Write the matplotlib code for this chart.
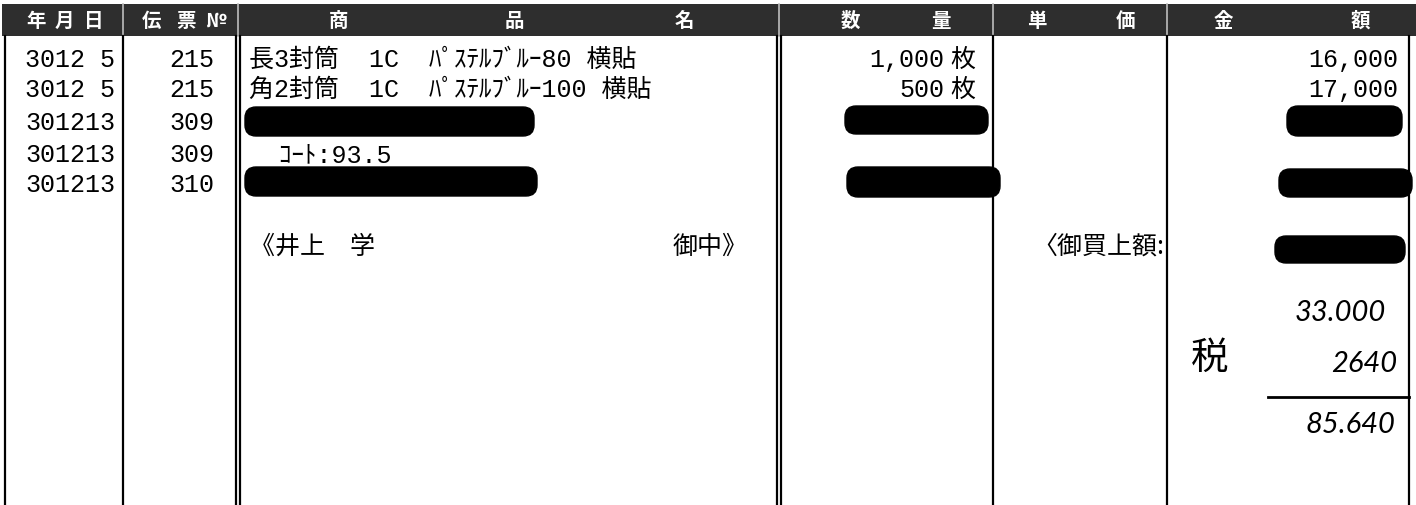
import matplotlib
matplotlib.use("Agg")
import matplotlib.pyplot as plt
from matplotlib.patches import Rectangle, FancyBboxPatch

# ---------------- data ----------------
header_labels = ["年", "月", "日", "伝", "票", "№", "商", "品", "名", "数", "量", "単", "価", "金", "額"]
dates = ["3012 5", "3012 5", "301213", "301213", "301213"]
slip_nos = ["215", "215", "309", "309", "310"]
products = ["長3封筒  1C  ﾊﾟｽﾃﾙﾌﾞﾙｰ80 横貼", "角2封筒  1C  ﾊﾟｽﾃﾙﾌﾞﾙｰ100 横貼", "", "  ｺｰﾄ:93.5", ""]
quantities = ["1,000", "500", "", "", ""]
qty_units = ["枚", "枚", "", "", ""]
amounts = ["16,000", "17,000", "", "", ""]
redacted_product = [False, False, True, False, True]
redacted_qty = [False, False, True, False, True]
redacted_amount = [False, False, True, False, True]
customer_left = "《井上　学"
customer_right = "御中》"
total_label = "〈御買上額:"
handwritten_values = ["33.000", "2640", "85.640"]
tax_label = "税"

# ---------------- layout ----------------
W, H = 1416, 506
fig = plt.figure(figsize=(W / 100, H / 100), dpi=100)
ax = fig.add_axes([0, 0, 1, 1])
ax.set_xlim(0, W)
ax.set_ylim(H, 0)
ax.axis("off")

CJK = ["Noto Sans CJK JP", "DejaVu Sans"]
MONO = ["Liberation Mono", "Noto Sans CJK JP", "DejaVu Sans"]
FS = 18

# header band
ax.add_patch(Rectangle((2, 5), W - 2, 32, facecolor="#2e2e2e", edgecolor="none", zorder=1))
header_x = [36, 64, 94, 152, 186, 216, 339, 514, 684, 850, 941, 1037, 1126, 1223, 1360]
for lbl, x in zip(header_labels, header_x):
    ax.text(x, 21, lbl, color="white", fontsize=14, fontweight="bold",
            family=CJK, ha="center", va="center", zorder=3)

# header separators (light)
for x in [123, 238, 779, 993, 1167]:
    ax.plot([x, x], [5, 37], color="#bdbdbd", lw=1.2, zorder=2)

# vertical rules
vlines = [5, 123, 236, 240, 777, 781, 993, 1167, 1409]
for x in vlines:
    ax.plot([x, x], [37, 506], color="black", lw=1.6, zorder=2)

# rows
baselines = [67, 97, 130, 162, 192]
for i, yb in enumerate(baselines):
    ax.text(25, yb, dates[i], fontsize=FS, family=MONO, ha="left", va="baseline")
    ax.text(214, yb, slip_nos[i], fontsize=FS, family=MONO, ha="right", va="baseline")
    if products[i]:
        ax.text(249, yb, products[i], fontsize=FS, family=MONO, ha="left", va="baseline")
    if quantities[i]:
        ax.text(944, yb, quantities[i], fontsize=FS, family=MONO, ha="right", va="baseline")
        ax.text(950, yb, qty_units[i], fontsize=FS, family=CJK, ha="left", va="baseline")
    if amounts[i]:
        ax.text(1398, yb, amounts[i], fontsize=FS, family=MONO, ha="right", va="baseline")

def blob(x0, y0, x1, y1):
    ax.add_patch(FancyBboxPatch((x0, y0), x1 - x0, y1 - y0,
                                boxstyle="round,pad=0,rounding_size=11",
                                facecolor="black", edgecolor="black", lw=1, zorder=4))

prod_boxes = {2: (245, 108, 534, 137), 4: (245, 168, 537, 197)}
qty_boxes = {2: (845, 107, 988, 135), 4: (847, 168, 1000, 198)}
amt_boxes = {2: (1287, 107, 1402, 137), 4: (1279, 170, 1412, 198)}
for i in range(len(dates)):
    if redacted_product[i]:
        blob(*prod_boxes[i])
    if redacted_qty[i]:
        blob(*qty_boxes[i])
    if redacted_amount[i]:
        blob(*amt_boxes[i])

# customer line
ax.text(250, 247, customer_left, fontsize=FS, family=CJK, ha="left", va="center")
ax.text(748, 247, customer_right, fontsize=FS, family=CJK, ha="right", va="center")
ax.text(1164, 247, total_label, fontsize=FS, family=CJK, ha="right", va="center")
blob(1275, 237, 1405, 264)

# handwritten totals
hw_pos = [(1386, 313), (1397, 364), (1395, 425)]
for v, (x, y) in zip(handwritten_values, hw_pos):
    ax.text(x, y, v, fontsize=21, family=["Lato", "DejaVu Sans"], fontstyle="italic",
            fontweight="normal", color="black", ha="right", va="center")
ax.text(1210, 358, tax_label, fontsize=27, family=CJK, fontweight="normal",
        color="black", ha="center", va="center")
ax.plot([1268, 1409], [398, 398], color="black", lw=2)

fig.savefig("out.png", dpi=100, facecolor="white")
